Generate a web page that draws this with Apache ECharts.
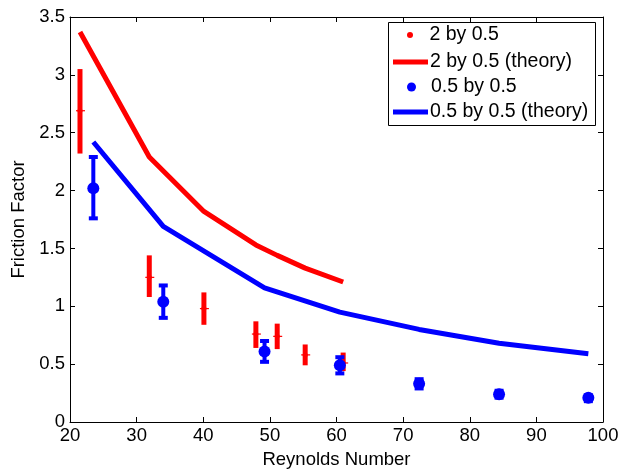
<!DOCTYPE html>
<html><head><meta charset="utf-8">
<script src="https://cdn.jsdelivr.net/npm/echarts@6/dist/echarts.min.js"></script>
<style>html,body{margin:0;padding:0;background:#fff}#c{width:627px;height:474px}</style>
</head><body><div id="c"></div>
<script>
// Red experiments: "2 by 0.5"
var redRe    = [21.5, 31.9, 40.1, 47.9, 51.1, 55.3, 61.0];
var redF     = [2.69, 1.25, 0.98, 0.76, 0.74, 0.58, 0.51];
var redLo    = [2.32, 1.08, 0.84, 0.64, 0.63, 0.49, 0.44];
var redHi    = [3.05, 1.44, 1.12, 0.87, 0.85, 0.67, 0.60];
var redThRe  = [21.5, 31.9, 40.1, 47.9, 51.1, 55.3, 61.0];
var redThF   = [3.37, 2.29, 1.82, 1.53, 1.44, 1.33, 1.21];
// Blue experiments: "0.5 by 0.5"
var blueRe   = [23.5, 34.0, 49.2, 60.5, 72.4, 84.4, 97.8];
var blueF    = [2.02, 1.04, 0.61, 0.49, 0.33, 0.24, 0.21];
var blueLo   = [1.76, 0.90, 0.52, 0.42, 0.29, 0.21, 0.18];
var blueHi   = [2.29, 1.18, 0.70, 0.56, 0.37, 0.27, 0.23];
var blueThRe = [23.5, 34.0, 49.2, 60.5, 72.4, 84.4, 97.8];
var blueThF  = [2.42, 1.69, 1.16, 0.95, 0.80, 0.68, 0.59];
var xTicks = [20, 30, 40, 50, 60, 70, 80, 90, 100];
var yTicks = [0, 0.5, 1, 1.5, 2, 2.5, 3, 3.5];
var names = ['2 by 0.5', '2 by 0.5 (theory)', '0.5 by 0.5', '0.5 by 0.5 (theory)'];

function zip(a, b) { return a.map(function (v, i) { return [v, b[i]]; }); }
function zip4(a, b, c, d) { return a.map(function (v, i) { return [v, b[i], c[i], d[i]]; }); }

var chart = echarts.init(document.getElementById('c'));
var FONT = 'Liberation Sans, Arial, sans-serif';
var AX_FS = 18.5, LEG_FS = 19.5;

function errRender(color, barW, capW, centerTick) {
  return function (params, api) {
    var x = api.value(0), lo = api.value(2), hi = api.value(3);
    var p1 = api.coord([x, lo]), p2 = api.coord([x, hi]), pc = api.coord([x, api.value(1)]);
    var ch = [{
      type: 'line', shape: {x1: p1[0], y1: p1[1], x2: p2[0], y2: p2[1]},
      style: {stroke: color, lineWidth: barW}
    }];
    if (capW) {
      ch.push({type: 'line', shape: {x1: p1[0] - capW / 2, y1: p1[1], x2: p1[0] + capW / 2, y2: p1[1]}, style: {stroke: color, lineWidth: barW}});
      ch.push({type: 'line', shape: {x1: p2[0] - capW / 2, y1: p2[1], x2: p2[0] + capW / 2, y2: p2[1]}, style: {stroke: color, lineWidth: barW}});
    }
    if (centerTick) {
      ch.push({type: 'line', shape: {x1: pc[0] - 4, y1: pc[1], x2: pc[0] + 5, y2: pc[1]}, style: {stroke: color, lineWidth: 1.2}});
    }
    return {type: 'group', children: ch};
  };
}

var axisCommon = {
  min: 20, max: 100, interval: 10,
  axisLine: {show: true, onZero: false, lineStyle: {color: '#000', width: 1}},
  axisTick: {show: true, inside: true, length: 5, lineStyle: {color: '#000'}},
  splitLine: {show: false}
};

var legendCommon = {
  orient: 'vertical', itemWidth: 35, itemGap: 0,
  textStyle: {fontFamily: FONT, fontSize: LEG_FS, color: '#000', padding: [0, 0, 0, -3]},
  padding: 0, selectedMode: false
};

chart.setOption({
  animation: false,
  backgroundColor: '#fff',
  grid: {left: 70, right: 24, top: 17, bottom: 47},
  xAxis: [
    Object.assign({}, axisCommon, {
      type: 'value', position: 'bottom',
      name: 'Reynolds Number', nameLocation: 'middle', nameGap: 28,
      nameTextStyle: {fontFamily: FONT, fontSize: AX_FS, color: '#000'},
      axisLabel: {fontFamily: FONT, fontSize: AX_FS, color: '#000', margin: 4,
        formatter: function (v) { return xTicks.indexOf(v) >= 0 ? String(v) : ''; }}
    }),
    Object.assign({}, axisCommon, {type: 'value', position: 'top', axisLabel: {show: false}})
  ],
  yAxis: [
    {
      type: 'value', min: 0, max: 3.5, interval: 0.5, position: 'left',
      name: 'Friction Factor', nameLocation: 'middle', nameGap: 36, nameRotate: 90,
      nameTextStyle: {fontFamily: FONT, fontSize: AX_FS, color: '#000'},
      axisLine: {show: true, onZero: false, lineStyle: {color: '#000'}},
      axisTick: {show: true, inside: true, length: 5, lineStyle: {color: '#000'}},
      splitLine: {show: false},
      axisLabel: {fontFamily: FONT, fontSize: AX_FS, color: '#000', margin: 5,
        formatter: function (v) { return yTicks.indexOf(v) >= 0 ? String(v) : ''; }}
    },
    {
      type: 'value', min: 0, max: 3.5, interval: 0.5, position: 'right',
      axisLine: {show: true, onZero: false, lineStyle: {color: '#000'}},
      axisTick: {show: true, inside: true, length: 5, lineStyle: {color: '#000'}},
      splitLine: {show: false}, axisLabel: {show: false}
    }
  ],
  legend: [
    Object.assign({}, legendCommon, {left: 407, top: 25, itemHeight: 6, data: [{name: names[0], icon: 'circle'}]}),
    Object.assign({}, legendCommon, {left: 393, top: 52, itemHeight: 5, data: [{name: names[1], icon: 'rect'}]}),
    Object.assign({}, legendCommon, {left: 407, top: 77, itemHeight: 9, data: [{name: names[2], icon: 'circle'}]}),
    Object.assign({}, legendCommon, {left: 393, top: 102, itemHeight: 5, data: [{name: names[3], icon: 'rect'}]})
  ],
  graphic: [{
    type: 'rect', left: 386, top: 20, shape: {width: 207, height: 103},
    style: {fill: 'none', stroke: '#000', lineWidth: 1}, z: 100, silent: true
  }],
  series: [
    {name: names[1], type: 'line', data: zip(redThRe, redThF), showSymbol: false, symbol: 'none',
      lineStyle: {color: '#ff0000', width: 5}, itemStyle: {color: '#ff0000'}, z: 2},
    {name: names[3], type: 'line', data: zip(blueThRe, blueThF), showSymbol: false, symbol: 'none',
      lineStyle: {color: '#0000ff', width: 5}, itemStyle: {color: '#0000ff'}, z: 2},
    {type: 'custom', renderItem: errRender('#ff0000', 5, 0, true), data: zip4(redRe, redF, redLo, redHi), z: 3, silent: true},
    {name: names[0], type: 'scatter', data: zip(redRe, redF), symbol: 'circle', symbolSize: 5,
      itemStyle: {color: '#ff0000', opacity: 1}, z: 4},
    {type: 'custom', renderItem: errRender('#0000ff', 4, 9, false), data: zip4(blueRe, blueF, blueLo, blueHi), z: 5, silent: true},
    {name: names[2], type: 'scatter', data: zip(blueRe, blueF), symbol: 'circle', symbolSize: 12,
      itemStyle: {color: '#0000ff', opacity: 1}, z: 6}
  ]
});
</script></body></html>
